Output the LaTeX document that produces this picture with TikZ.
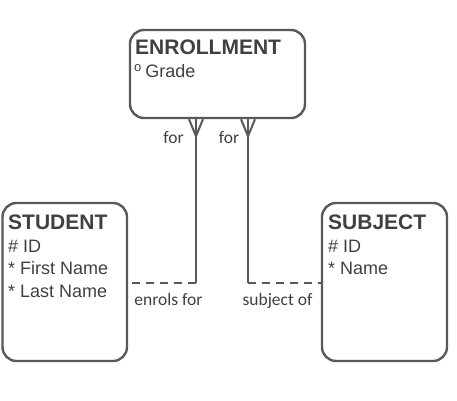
\documentclass[tikz,border=0pt]{standalone}
\usepackage{fontspec}
\setmainfont{Liberation Sans}
\newfontfamily\lblfont{Carlito}
\definecolor{erdline}{RGB}{89,89,89}
\definecolor{erdtext}{RGB}{64,64,64}
\begin{document}
\begin{tikzpicture}[x=1pt,y=-1pt,
        entity/.style = {draw=erdline, line width=2.4pt, rounded corners=14pt, inner sep=0pt},
        attrs/.style = {anchor=north west, inner sep=0pt, align=left, text=erdtext, font=\fontsize{18}{22.5}\selectfont},
        lbl/.style = {anchor=base, inner sep=0pt, text=erdtext, font=\lblfont\fontsize{17.5}{20}\selectfont},
        rel/.style = {draw=erdline, line width=2pt}]
        \useasboundingbox (0,0) rectangle (457,400);
        \node[entity, minimum width=175pt, minimum height=88pt] (enr) at (217.5,74) {};
        \node[entity, minimum width=124.5pt, minimum height=158pt] (stu) at (64.75,282) {};
        \node[entity, minimum width=125pt, minimum height=158pt] (sub) at (384.5,282) {};
        \node[attrs] (enrtxt) at (135,40) {{\fontsize{21}{22.5}\selectfont\bfseries ENROLLMENT}\\\hspace*{-1pt}\raisebox{6pt}{\fontsize{13}{13}\selectfont o}\hspace{4pt}Grade};
        \node[attrs] (stutxt) at (8,215) {{\fontsize{21}{22.5}\selectfont\bfseries STUDENT}\\\# ID\\* First Name\\* Last Name};
        \node[attrs] (subtxt) at (328,215) {{\fontsize{21}{22.5}\selectfont\bfseries SUBJECT}\\\# ID\\* Name};
        \coordinate (c1) at (196,283);
        \coordinate (c2) at (248,283);
        % student -- enrollment
        \draw[rel] (enr.south -| c1) -- (c1);
        \draw[rel] ([xshift=-7pt]enr.south -| c1) -- ([yshift=-17pt]enr.south -| c1) -- ([xshift=7pt]enr.south -| c1);
        \draw[rel, dash pattern=on 8pt off 6pt] (c1) -- (stu.east |- c1);
        % subject -- enrollment
        \draw[rel] (enr.south -| c2) -- (c2);
        \draw[rel] ([xshift=-7pt]enr.south -| c2) -- ([yshift=-17pt]enr.south -| c2) -- ([xshift=7pt]enr.south -| c2);
        \draw[rel, dash pattern=on 8pt off 6pt] (c2) -- (sub.west |- c2);
        \node[lbl] (for1) at (173.5,143) {for};
        \node[lbl] (for2) at (229,143) {for};
        \node[lbl] (enrols) at (168.5,305) {enrols for};
        \node[lbl] (subjof) at (277.5,305) {subject of};
\end{tikzpicture}
\end{document}
